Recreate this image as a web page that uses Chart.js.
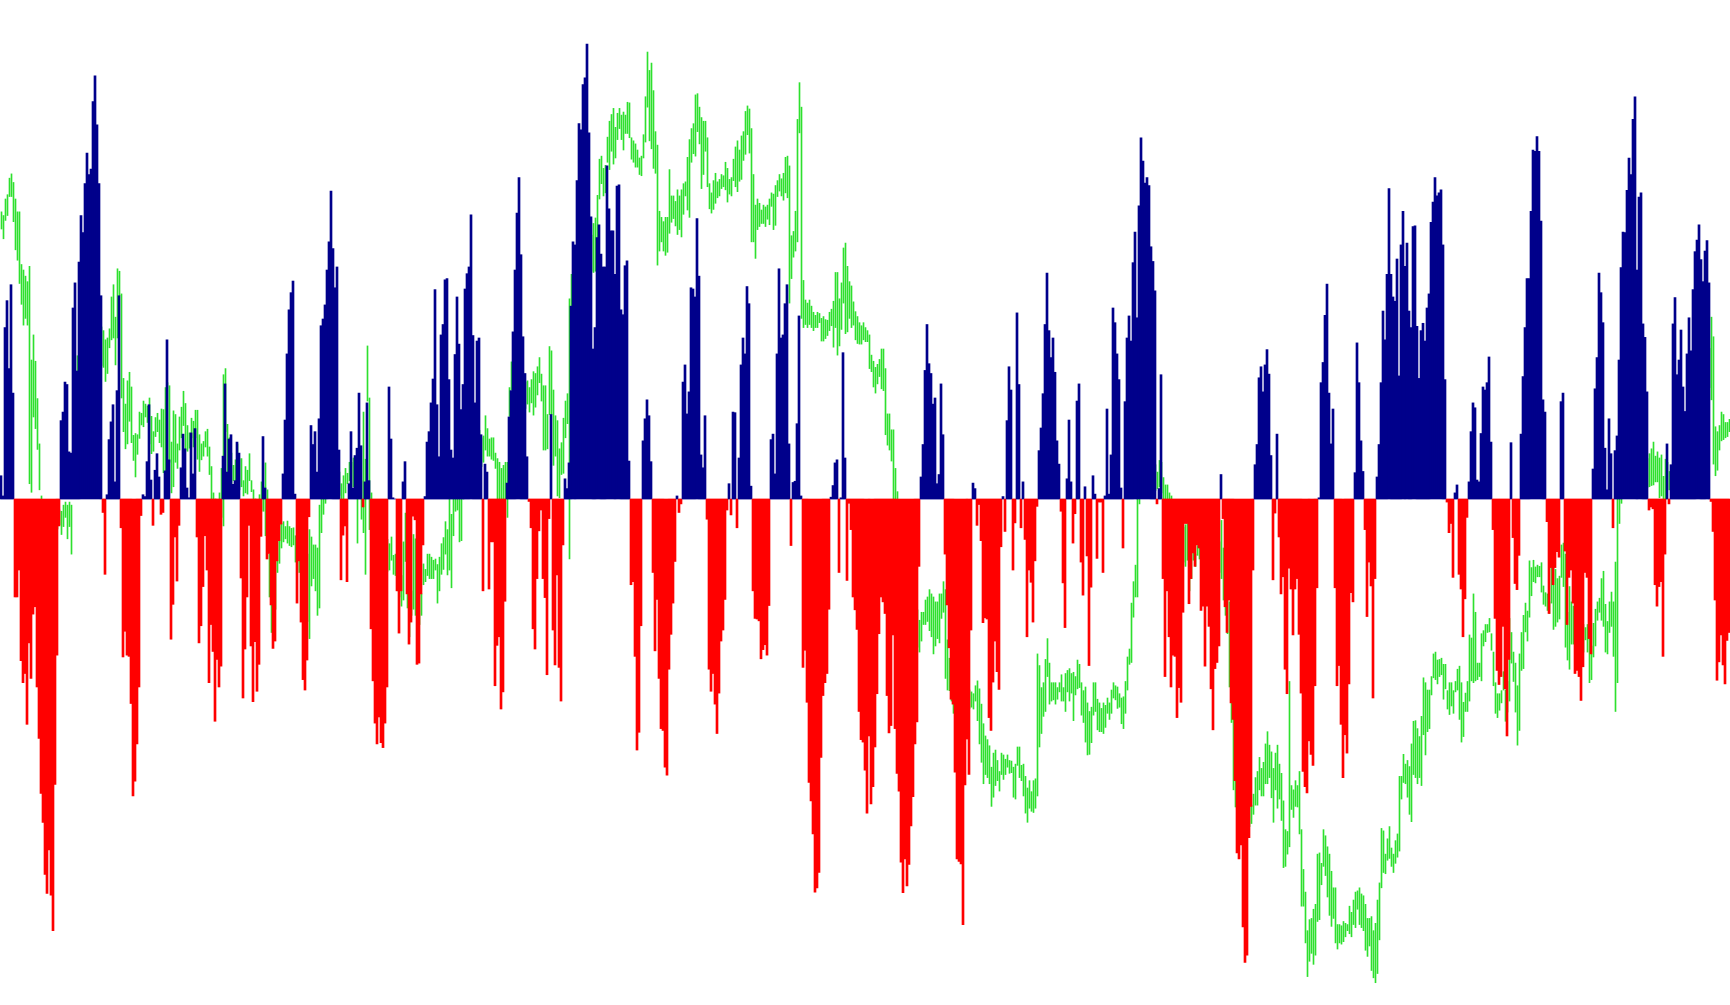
<!DOCTYPE html>
<html>
<head>
<meta charset="utf-8">
<title>Histogram</title>
<script src="https://cdn.jsdelivr.net/npm/chart.js@4.4.1/dist/chart.umd.min.js"></script>
<style>
  html, body { margin: 0; padding: 0; background: #ffffff; overflow: hidden; }
  #chart { display: block; width: 1730px; height: 1005px; }
</style>
</head>
<body>
<canvas id="chart" width="1730" height="1005"></canvas>
<script>
// oscillator histogram, one value per bar
const histogram = [
  38,5,280,324,213,350,173,-160,-160,-116,
  -264,-300,-285,-368,-235,-293,-188,-176,-307,-391,
  -481,-528,-613,-644,-573,-647,-705,-466,-255,-44,
  128,142,191,187,77,75,312,353,209,387,
  463,435,515,565,530,539,649,691,611,515,
  332,-22,-123,7,97,126,154,28,177,332,
  -47,-258,-216,-255,-257,-334,-485,-461,-400,-307,
  -27,7,4,61,154,31,-43,47,74,36,
  -25,-22,46,260,64,-229,-172,-62,-134,-43,
  51,106,82,18,2,108,41,115,-62,-235,
  -207,-143,-60,-116,-300,-205,-249,-363,-262,-307,
  -273,70,188,44,98,105,24,30,93,75,
  -129,-325,-245,-160,-43,-240,-331,-233,-314,-270,
  -61,102,18,-98,-89,-173,-244,-232,-101,-68,
  -41,41,129,237,309,337,356,8,-170,-101,
  -201,-295,-312,-263,-29,120,89,110,44,131,
  283,294,317,374,420,503,409,345,379,80,
  -132,-59,-44,-135,25,110,18,71,83,173,
  87,-13,28,157,30,-212,-297,-366,-400,-356,
  -398,-406,-366,-307,183,98,2,0,-150,-219,
  -150,28,61,-155,-237,-201,-28,-34,-270,-268,
  -155,-75,4,93,110,157,196,342,154,69,
  268,285,358,360,195,80,67,236,330,253,
  146,187,343,368,379,464,267,157,258,263,
  105,-150,57,44,-147,-70,-70,-305,-239,-225,
  -343,-315,-167,26,134,177,273,374,467,525,
  399,265,205,69,-4,-47,-212,-245,-130,-52,
  -18,-130,-161,-287,-32,138,-214,-271,-124,-275,
  -330,-75,33,17,59,315,420,415,520,613,
  603,677,688,743,598,461,245,280,427,448,
  400,379,379,544,474,438,438,367,511,513,
  309,301,381,389,62,-140,-135,-257,-410,-381,
  -207,95,131,162,136,61,-120,-248,-164,-293,
  -375,-378,-438,-451,-278,-221,-170,-102,5,-22,
  -8,191,219,139,175,345,343,330,458,364,
  72,51,136,-33,-278,-314,-285,-335,-383,-317,
  -232,-214,-164,-18,25,-26,142,141,-47,67,
  219,263,237,347,319,21,-150,-195,-196,-199,
  -261,-246,-238,-255,-174,97,106,41,237,376,
  263,268,319,350,90,-76,27,29,123,299,
  5,-275,-247,-332,-463,-493,-547,-642,-635,-610,
  -422,-321,-300,-285,-180,3,22,59,64,-120,
  2,239,67,-133,-7,-50,-160,-181,-213,-347,
  -393,-397,-443,-513,-387,-498,-470,-405,-318,-220,
  -160,-168,-187,-321,-382,-370,-222,-375,-448,-477,
  -593,-643,-588,-632,-597,-534,-486,-400,-364,-110,
  36,89,210,285,221,205,155,165,25,40,
  188,105,-90,-173,-243,-327,-335,-446,-588,-592,
  -596,-695,-467,-392,-450,-214,26,17,-43,-9,
  -68,-202,-194,-196,-357,-378,-299,-232,-282,-311,
  -78,4,-53,128,216,178,-116,-39,304,187,
  -47,28,-66,-225,-116,-136,-201,-101,-12,79,
  116,172,285,369,275,231,263,207,95,57,
  -20,-137,-210,33,129,28,-72,-24,160,188,
  -103,-157,20,-93,-272,-144,38,8,-97,-5,
  -5,-120,5,147,8,72,312,288,237,195,
  18,-80,159,263,299,258,386,436,296,479,
  590,552,516,525,512,412,388,340,-8,17,
  203,-130,-290,-150,-225,-307,-255,-257,-357,-308,
  -332,-185,-40,-40,-171,-130,-88,-110,-75,-80,
  -182,-175,-273,-175,-208,-310,-377,-277,-267,-240,
  40,-32,-176,-218,-165,-333,-360,-460,-578,-588,
  -565,-699,-757,-745,-553,-502,-116,56,89,198,
  216,175,219,244,204,71,-132,-23,106,-62,
  -155,-127,-278,-318,-113,-147,-222,-147,-130,-221,
  -317,-445,-470,-480,-395,-417,-435,-305,-145,2,
  190,223,300,351,173,90,147,-145,-305,-272,
  -368,-455,-385,-415,-302,-153,-168,43,255,190,
  95,45,-50,-192,-103,-142,-325,-130,36,89,
  190,307,260,367,507,367,330,323,392,201,
  415,470,380,418,307,280,445,446,282,197,
  275,287,258,312,335,452,485,525,495,500,
  505,415,195,-5,-55,-40,-128,10,23,-123,
  -147,-225,-163,-30,28,110,157,149,31,28,
  107,183,178,190,232,93,-50,-195,-280,-303,
  -290,-208,-310,-387,-262,92,-63,-138,-148,-92,
  106,200,280,360,360,470,570,568,592,568,
  454,162,142,-37,-187,-112,-140,-112,-86,-95,
  159,173,-85,-205,-128,-116,-170,-285,-280,-290,
  -329,-274,-120,-128,-228,-253,49,180,231,369,
  337,288,83,15,131,74,-47,79,103,227,
  378,436,435,504,557,530,620,657,374,493,
  500,286,264,175,-18,-13,-16,-140,-175,-143,
  -135,-257,-90,90,-8,56,286,329,203,227,
  276,183,143,237,296,242,342,404,423,448,
  391,355,405,422,353,-4,-53,-165,-296,-266,
  -222,-271,-302,-231,-218
];

// price bars (high / low), same scale as the histogram
const priceHigh = [
  469,463,490,497,524,531,517,490,469,469,
  383,374,364,355,380,227,268,225,164,90,
  5,-2,-12,-14,-22,-27,-18,-16,-13,-18,
  -20,-10,-5,-10,-5,-10,110,150,234,226,
  218,212,233,251,238,229,252,258,272,268,
  281,275,260,263,278,330,350,297,376,372,
  335,197,155,193,207,183,104,107,105,142,
  140,160,155,152,165,135,110,133,140,129,
  147,146,182,190,185,93,144,138,90,134,
  150,176,156,120,108,132,127,145,145,105,
  90,94,110,114,85,53,10,0,-10,10,
  50,203,213,122,100,75,55,64,90,66,
  66,30,53,47,74,30,15,0,-5,7,
  28,20,59,15,-90,-90,-110,-100,-68,-40,
  -40,-37,-45,-36,-45,-48,-47,-60,-80,-100,
  -110,-120,-110,-90,-50,-62,-75,-75,-80,-10,
  10,15,20,30,42,48,45,38,52,44,
  25,38,50,42,60,60,67,50,30,50,
  30,142,65,250,165,10,-10,-22,-28,-41,
  -52,-48,-63,-66,-73,-62,-92,-90,-110,-120,
  -125,-70,-23,-155,-200,-150,-58,-65,-150,-155,
  -155,-106,-115,-90,-90,-95,-100,-98,-107,-95,
  -73,-63,-37,-50,10,-25,10,10,10,5,
  5,30,48,62,68,82,88,101,97,112,
  100,103,136,115,98,100,100,75,66,60,
  50,55,60,60,182,224,210,223,228,219,
  212,198,191,193,182,195,208,205,216,231,
  204,185,185,138,249,242,178,136,128,82,
  92,132,160,172,327,367,380,392,398,413,
  418,423,428,433,419,431,450,459,496,555,
  560,540,545,591,617,628,638,607,630,638,
  627,632,627,648,647,590,585,580,570,557,
  560,595,657,730,700,712,667,600,578,470,
  460,453,460,460,538,495,495,486,505,495,
  505,515,518,558,587,605,613,660,662,640,
  623,617,617,590,515,500,520,532,518,522,
  530,528,550,540,522,525,555,575,585,570,
  593,600,633,642,637,605,530,480,490,483,
  472,480,477,480,490,500,498,512,520,530,
  523,532,558,560,544,430,437,470,620,680,
  640,357,325,320,325,315,305,300,305,303,
  295,298,293,292,305,310,323,370,370,327,
  353,410,418,380,355,348,322,306,298,288,
  283,288,280,275,268,235,225,215,220,228,
  245,245,213,139,139,113,113,50,12,-21,
  -38,-62,-79,-102,-118,-141,-158,-172,-181,-198,
  -185,-185,-165,-160,-148,-155,-160,-168,-168,-155,
  -155,-135,-148,-230,-260,-310,-310,-320,-318,-308,
  -315,-310,-305,-310,-312,-315,-318,-305,-297,-310,
  -335,-367,-387,-393,-403,-438,-415,-410,-427,-445,
  -415,-418,-425,-418,-427,-428,-438,-433,-405,-405,
  -435,-433,-453,-472,-460,-478,-460,-457,-253,-272,
  -308,-300,-262,-228,-268,-300,-300,-300,-308,-300,
  -287,-308,-285,-280,-277,-285,-283,-290,-263,-270,
  -300,-313,-307,-333,-347,-340,-300,-300,-327,-333,
  -342,-333,-337,-325,-333,-312,-300,-305,-307,-318,
  -325,-323,-298,-258,-245,-170,-135,-108,5,10,
  32,41,47,53,44,51,49,56,44,63,
  60,35,23,23,10,5,-11,-19,-32,-38,
  -43,-46,-42,-40,-72,-80,-78,-90,-76,-80,
  -85,-90,-95,-90,-100,-105,-100,-90,-80,-70,
  -35,-80,-120,-140,-168,-332,-335,-460,-470,-480,
  -490,-500,-495,-500,-495,-500,-482,-455,-445,-422,
  -440,-430,-400,-380,-402,-413,-440,-415,-402,-433,
  -448,-493,-540,-543,-298,-468,-475,-460,-468,-445,
  -540,-605,-642,-705,-687,-685,-670,-662,-580,-578,
  -595,-540,-550,-568,-580,-608,-635,-635,-695,-695,
  -697,-690,-693,-695,-665,-675,-655,-642,-640,-635,
  -645,-648,-662,-685,-685,-682,-705,-693,-655,-627,
  -538,-542,-580,-555,-535,-570,-580,-558,-547,-453,
  -453,-417,-433,-427,-437,-400,-363,-362,-375,-388,
  -355,-292,-300,-312,-312,-290,-253,-250,-263,-262,
  -260,-270,-270,-313,-300,-300,-313,-298,-278,-273,
  -300,-332,-317,-298,-222,-227,-155,-185,-268,-268,
  -220,-215,-205,-205,-195,-220,-250,-300,-318,-318,
  -313,-282,-312,-298,-195,-218,-250,-268,-305,-253,
  -218,-190,-170,-183,-101,-112,-100,-111,-108,-110,
  -104,-142,-153,-155,-168,-103,-110,-115,-130,-126,
  -75,-72,-90,-185,-143,-168,-175,-190,-195,-200,
  -210,-205,-210,-205,-228,-240,-203,-180,-168,-162,
  -130,-118,-172,-200,-168,-152,-168,-103,30,30,
  30,40,46,51,48,44,53,49,43,52,
  57,61,58,66,74,82,93,70,77,67,
  72,37,65,60,45,50,62,58,75,88,
  97,112,118,127,145,148,158,173,178,195,
  197,214,218,233,246,297,265,118,110,120,
  142,138,125,125,130
];

const priceLow = [
  441,425,455,463,494,494,453,407,390,352,
  318,284,295,284,25,11,134,115,81,15,
  0,-40,-48,-58,-63,-72,-61,-57,-49,-42,
  -58,-45,-30,-65,-45,-90,10,48,150,163,
  146,143,158,168,182,168,183,192,196,212,
  218,215,192,205,247,260,263,219,263,332,
  165,110,82,90,127,92,63,36,73,99,
  121,118,134,125,90,74,78,102,110,92,
  85,43,40,60,60,10,20,60,50,80,
  100,120,80,78,83,100,85,100,65,45,
  64,70,85,70,40,0,-40,-50,-50,-40,
  -30,-44,110,44,50,22,30,10,30,15,
  20,5,10,8,30,12,-10,-40,-50,-30,
  -20,-20,-60,-50,-160,-218,-200,-180,-120,-105,
  -80,-70,-65,-72,-76,-78,-75,-103,-120,-120,
  -150,-170,-180,-200,-228,-142,-130,-150,-190,-178,
  -55,-25,-7,2,6,12,4,7,11,6,
  -10,-10,10,25,30,20,20,10,-72,5,
  -33,-55,-123,160,-50,-20,-50,-68,-83,-88,
  -97,-112,-108,-118,-116,-100,-123,-125,-150,-160,
  -175,-165,-102,-178,-225,-190,-180,-190,-200,-205,
  -190,-140,-135,-125,-130,-130,-130,-116,-170,-150,
  -123,-115,-90,-124,-116,-145,-60,-20,-18,-70,
  -68,0,6,9,13,18,33,38,52,48,
  53,60,80,70,70,65,63,50,0,0,
  0,0,0,-30,135,178,150,158,172,163,
  147,152,148,155,142,157,137,150,170,190,
  160,80,80,82,138,138,55,70,5,2,
  40,42,100,123,-98,315,320,327,342,348,
  353,357,364,368,362,372,370,372,402,490,
  515,495,500,550,538,568,547,557,587,605,
  587,570,597,597,590,555,550,542,542,530,
  528,557,583,640,585,572,540,532,382,405,
  420,405,398,403,434,452,458,446,432,440,
  428,465,495,472,460,550,564,560,600,580,
  507,530,568,510,474,467,473,483,492,495,
  507,510,505,485,498,495,520,510,502,519,
  522,553,563,595,565,420,420,393,440,445,
  450,450,445,457,448,478,440,447,494,503,
  495,488,500,492,320,360,395,405,420,598,
  295,280,285,280,285,280,275,280,280,288,
  258,258,262,267,275,283,248,280,235,250,
  277,320,270,273,295,280,284,260,254,253,
  253,260,257,257,213,208,183,173,188,200,
  180,177,105,88,80,62,0,-40,-58,-83,
  -97,-118,-133,-148,-172,-188,-212,-223,-242,-250,
  -232,-205,-205,-200,-215,-225,-253,-240,-228,-235,
  -195,-185,-293,-312,-313,-330,-350,-360,-352,-348,
  -345,-340,-345,-340,-342,-340,-343,-330,-362,-400,
  -430,-465,-450,-455,-465,-502,-487,-468,-460,-477,
  -450,-458,-450,-438,-448,-447,-487,-490,-435,-455,
  -460,-485,-513,-528,-505,-510,-512,-505,-485,-405,
  -383,-355,-347,-290,-335,-330,-328,-335,-327,-315,
  -330,-330,-347,-315,-330,-317,-362,-320,-310,-308,
  -353,-365,-397,-418,-417,-398,-353,-347,-377,-380,
  -380,-383,-373,-350,-360,-350,-325,-328,-342,-340,
  -367,-375,-350,-312,-270,-267,-193,-160,-160,-8,
  1,6,9,12,4,11,16,14,17,20,
  10,0,-5,-5,-10,-20,-48,-63,-78,-92,
  -98,-103,-110,-100,-150,-130,-100,-110,-92,-98,
  -120,-130,-140,-130,-145,-150,-150,-140,-130,-120,
  -130,-165,-190,-220,-307,-365,-475,-503,-520,-530,
  -540,-550,-540,-540,-535,-530,-515,-500,-500,-475,
  -485,-485,-465,-465,-455,-488,-528,-475,-505,-490,
  -525,-602,-600,-580,-568,-507,-520,-502,-503,-547,
  -665,-665,-725,-780,-755,-742,-760,-745,-690,-687,
  -630,-600,-615,-650,-680,-698,-685,-725,-735,-725,
  -727,-723,-715,-705,-710,-715,-695,-700,-670,-695,
  -700,-705,-737,-747,-730,-770,-782,-790,-775,-720,
  -635,-610,-612,-590,-587,-600,-610,-595,-585,-575,
  -490,-463,-465,-487,-515,-527,-450,-455,-465,-455,
  -468,-385,-418,-380,-375,-320,-292,-295,-302,-290,
  -287,-327,-310,-343,-352,-338,-350,-315,-312,-360,
  -397,-388,-347,-347,-330,-297,-300,-297,-295,-290,
  -297,-240,-233,-218,-217,-247,-305,-350,-357,-345,
  -333,-312,-363,-348,-330,-268,-298,-348,-402,-378,
  -280,-277,-217,-232,-193,-158,-135,-137,-127,-127,
  -152,-172,-175,-182,-187,-170,-213,-208,-201,-196,
  -128,-143,-242,-263,-278,-237,-237,-250,-260,-260,
  -270,-250,-230,-250,-300,-295,-258,-240,-198,-185,
  -198,-208,-250,-253,-218,-208,-257,-347,-300,-40,
  -7,2,6,4,11,5,9,3,6,12,
  10,16,21,19,20,22,23,28,28,2,
  5,0,0,15,15,10,12,18,25,34,
  38,46,63,66,82,94,97,112,118,128,
  143,148,163,168,182,162,57,38,47,80,
  95,97,100,102,110
];

const BLUE = '#00008b';
const RED = '#ff0000';
const GREEN = '#2ee02e';

// bar i fills the 2px slot [2i, 2i+2); the price tick sits on the right pixel
const histPoints = histogram.map((v, i) => ({ x: i + 0.5, y: v }));
const histColors = histogram.map(v => v >= 0 ? BLUE : RED);
const pricePoints = priceHigh.map((h, i) => ({ x: i + 0.75, y: [priceLow[i], h] }));

const ctx = document.getElementById('chart').getContext('2d');
const chart = new Chart(ctx, {
    type: 'bar',
    data: {
        datasets: [
            {
                label: 'Histogram',
                data: histPoints,
                backgroundColor: histColors,
                barThickness: 2,
                grouped: false,
                borderWidth: 0,
                order: 0
            },
            {
                label: 'Price',
                data: pricePoints,
                backgroundColor: GREEN,
                barThickness: 1,
                grouped: false,
                borderWidth: 0,
                order: 1
            }
        ]
    },
    options: {
        responsive: false,
        animation: false,
        events: [],
        layout: { padding: 0 },
        plugins: {
            legend: { display: false },
            tooltip: { enabled: false }
        },
        scales: {
            x: {
                type: 'linear',
                min: 0,
                max: histogram.length,
                offset: false,
                display: false
            },
            y: {
                min: -826.4,
                max: 815,
                display: false
            }
        }
    }
});
</script>
</body>
</html>
